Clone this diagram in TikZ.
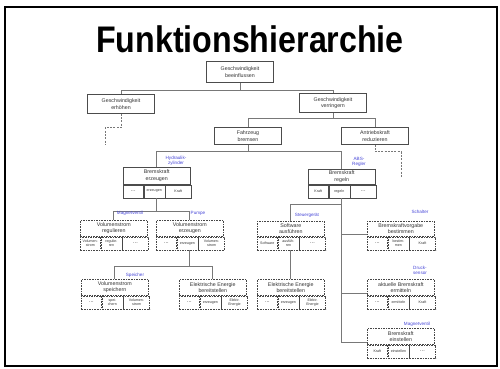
\documentclass[tikz,border=0pt]{standalone}
\usepackage{fontspec}
\setmainfont{Liberation Sans}
\usepackage{tikz}
\usetikzlibrary{calc,shadows}
\definecolor{etikett}{RGB}{70,70,215}
\definecolor{linie}{RGB}{120,120,120}

\tikzset{
  fest/.style={draw=gray!60!black, line width=0.5pt, fill=white, inner sep=0pt, align=center,
    text=black!80, font=\fontsize{5.3}{6.4}\selectfont,
    drop shadow={shadow xshift=0.9pt, shadow yshift=-0.9pt, fill=gray!55}},
  lose/.style={draw=gray!55!black, line width=0.6pt, dash pattern=on 1.6pt off 1pt, fill=white,
    inner sep=0pt, align=center, text=black!80, font=\fontsize{5.3}{6.4}\selectfont},
  zelle/.style={minimum height=13pt, font=\fontsize{3.6}{4.1}\selectfont},
  verb/.style={draw=linie, line width=0.8pt},
  offen/.style={draw=linie, line width=0.7pt, dash pattern=on 2pt off 1.3pt},
  rolle/.style={text=etikett, align=center, font=\fontsize{4.6}{5.2}\selectfont, inner sep=0pt}
}
\newcommand{\pkt}{{\fontsize{5.5}{5.5}\selectfont...}}

% Funktion mit drei Teilfeldern: Name, Ecke oben links, Stil, Text, Feld 1-3, Hoehe
\newcommand{\fkt}[8]{%
  \node[#3, minimum width=67pt, minimum height=#8, anchor=north west] (#1) at (#2) {#4};
  \node[#3, zelle, minimum width=20pt, anchor=north west] (#1-a) at (#1.south west) {#5};
  \node[#3, zelle, minimum width=21pt, anchor=north west] (#1-b) at (#1-a.north east) {#6};
  \node[#3, zelle, minimum width=26pt, anchor=north west] (#1-c) at (#1-b.north east) {#7};
}

\begin{document}
\begin{tikzpicture}[x=1pt, y=-1pt]
  \useasboundingbox (0,0) rectangle (500,368);
  \draw[line width=1.3pt] (5,7) rectangle (497,366);

  \node[font=\fontsize{37}{40}\selectfont\bfseries, xscale=0.87, transform shape] (titel) at (250,39) {Funktionshierarchie};

  % obere Ebenen
  \node[fest, minimum width=67pt, minimum height=21pt] (gb) at (240,72) {Geschwindigkeit\\beeinflussen};
  \node[fest, minimum width=67pt, minimum height=19pt] (ge) at (121,104) {Geschwindigkeit\\erhöhen};
  \node[fest, minimum width=67pt, minimum height=19pt] (gv) at (333,103) {Geschwindigkeit\\verringern};
  \node[fest, minimum width=67pt, minimum height=17pt] (fb) at (248,136) {Fahrzeug\\bremsen};
  \node[fest, minimum width=67pt, minimum height=17pt] (ar) at (375,136) {Antriebskraft\\reduzieren};

  \coordinate (j1) at (240,90);
  \draw[verb] (gb.south) -- (j1) -| (ge.north);
  \draw[verb] (j1) -| (gv.north);
  \coordinate (j2) at (333,118);
  \draw[verb] (gv.south) -- (j2) -| (fb.north);
  \draw[verb] (j2) -| (ar.north);

  \coordinate (ge-ende) at (105,145);
  \draw[offen] (ge.south) -- ++(0,14) -| (ge-ende);
  \coordinate (ar-ende) at (401,178);
  \draw[offen] (ar.south) -- ++(0,7) -| (ar-ende);

  % Bremskraft
  \fkt{be}{123,167}{fest}{Bremskraft\\erzeugen}{\pkt}{erzeugen}{Kraft}{17pt}
  \fkt{br}{308,169}{fest}{Bremskraft\\regeln}{Kraft}{regeln}{\pkt}{15pt}

  \coordinate (j3) at (248,151);
  \draw[verb] (fb.south) -- (j3) -| (be.north);
  \draw[verb] (j3) -| (br.north);

  % linker Zweig
  \fkt{vr}{80,220}{lose}{Volumenstrom\\regulieren}{Volumen-\\strom}{regulie-\\ren}{\pkt}{16pt}
  \fkt{ve}{156,220}{lose}{Volumenstrom\\erzeugen}{\pkt}{erzeugen}{Volumen-\\strom}{16pt}
  \fkt{vs}{81,279}{lose}{Volumenstrom\\speichern}{\pkt}{spei-\\chern}{Volumen-\\strom}{16pt}
  \fkt{ea}{179,279}{lose}{Elektrische Energie\\bereitstellen}{\pkt}{erzeugen}{Elektr.\\Energie}{16pt}

  \coordinate (be-fuss) at (be.center |- be-b.south);
  \draw[verb] (be-fuss) -- ++(0,13) -| (vr.north);
  \draw[verb] (be-fuss) -- ++(0,13) -| (ve.north);
  \coordinate (ve-fuss) at (ve.center |- ve-b.south);
  \draw[verb] (ve-fuss) -- ++(0,16) -| (vs.north);
  \draw[verb] (ve-fuss) -- ++(0,16) -| (ea.north);

  % rechter Zweig
  \fkt{sa}{257,221}{lose}{Software\\ausführen}{Software}{ausfüh-\\ren}{\pkt}{15pt}
  \fkt{eb}{257,279}{lose}{Elektrische Energie\\bereitstellen}{\pkt}{erzeugen}{Elektr.\\Energie}{16pt}
  \fkt{bb}{367,221}{lose}{Bremskraftvorgabe\\bestimmen}{\pkt}{bestim-\\men}{Kraft}{15pt}
  \fkt{ak}{367,279}{lose}{aktuelle Bremskraft\\ermitteln}{\pkt}{ermitteln}{Kraft}{16pt}
  \fkt{ek}{367,328}{lose}{Bremskraft\\einstellen}{Kraft}{einstellen}{\pkt}{16pt}

  \coordinate (br-fuss) at (br.center |- br-b.south);
  \draw[verb] (br-fuss) -- ++(0,6) -| (sa.north);
  \draw[verb] (br-fuss) |- ($(bb.south west)+(0,-2)$);
  \draw[verb] (br-fuss) |- ($(ak.south west)+(0,-2.5)$);
  \draw[verb] (br-fuss) |- ($(ek.south west)+(0,-2.5)$);
  \draw[verb] (sa.center |- sa-b.south) -- (eb.north);

  % Bauteile
  \node[rolle] (hz) at (176,161) {Hydraulik-\\zylinder};
  \node[rolle] (abs) at (359,162) {ABS-\\Regler};
  \node[rolle] (mv1) at (130,213) {Magnetventil};
  \node[rolle] (pu) at (198,213) {Pumpe};
  \node[rolle] (sg) at (307,215) {Steuergerät};
  \node[rolle] (sc) at (420,212) {Schalter};
  \node[rolle] (sp) at (135,275) {Speicher};
  \node[rolle] (ds) at (420,270) {Druck-\\sensor};
  \node[rolle] (mv2) at (417,324) {Magnetventil};
\end{tikzpicture}
\end{document}
